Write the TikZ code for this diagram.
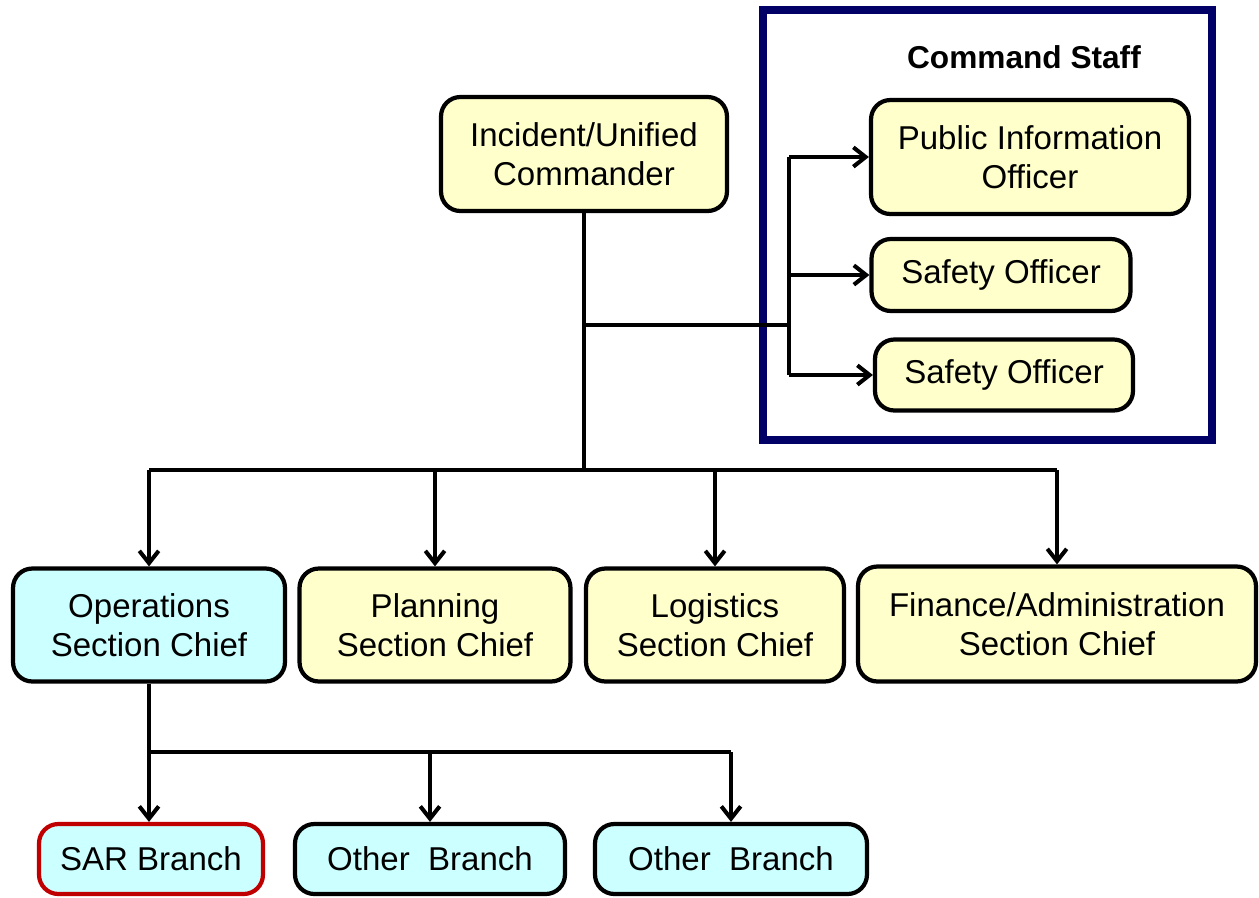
\documentclass[tikz,border=0pt]{standalone}
\usepackage{fontspec}
\setmainfont{Liberation Sans}
\usetikzlibrary{arrows.meta}
\definecolor{boxyellow}{HTML}{FFFFCC}
\definecolor{boxcyan}{HTML}{CCFFFF}
\definecolor{staffblue}{HTML}{000066}
\definecolor{sarred}{HTML}{C00000}

\begin{document}
\begin{tikzpicture}[x=0.02cm,y=-0.02cm,
    post/.style={draw=black,line width=2.4pt,rounded corners=11pt,align=center,
        font=\fontsize{18.8}{22}\selectfont,inner sep=0pt},
    yellowbox/.style={post,fill=boxyellow},
    cyanbox/.style={post,fill=boxcyan},
    link/.style={line width=2.4pt},
    arrow/.style={link,-{Straight Barb[length=7pt,width=11pt,line width=2.3pt]}}]
    \useasboundingbox (0,0) rectangle (1259,897);
            \draw[staffblue,line width=4pt] (763,10) rectangle (1212,440);
            \node (staff) at (1024,57) {\fontsize{18}{21}\selectfont\bfseries Command Staff};
            \node[yellowbox,minimum width=5.72cm,minimum height=2.28cm] (cmd) at (584,154) {Incident/Unified\\Commander};
            \node[yellowbox,minimum width=6.36cm,minimum height=2.28cm] (pio) at (1030,157) {Public Information\\Officer};
            \node[yellowbox,minimum width=5.18cm,minimum height=1.44cm] (saf1) at (1001,275) {Safety Officer};
            \node[yellowbox,minimum width=5.16cm,minimum height=1.42cm] (saf2) at (1004,375) {Safety Officer};
            \node[cyanbox,minimum width=5.44cm,minimum height=2.26cm] (ops) at (149,625) {Operations\\Section Chief};
            \node[yellowbox,minimum width=5.42cm,minimum height=2.26cm] (plan) at (435,625) {Planning\\Section Chief};
            \node[yellowbox,minimum width=5.16cm,minimum height=2.26cm] (log) at (715,625) {Logistics\\Section Chief};
            \node[yellowbox,minimum width=7.96cm,minimum height=2.30cm] (fin) at (1057,624) {Finance/Administration\\Section Chief};
            \node[cyanbox,draw=sarred,minimum width=4.48cm,minimum height=1.40cm] (sar) at (151,859) {SAR Branch};
            \node[cyanbox,minimum width=5.40cm,minimum height=1.40cm] (oth1) at (430,859) {Other\ \ Branch};
            \node[cyanbox,minimum width=5.44cm,minimum height=1.40cm] (oth2) at (731,859) {Other\ \ Branch};
            \coordinate (tap) at (789,325);
            \coordinate (bus) at (584,470);
            \coordinate (opsbus) at (149,752);
            \draw[link] (cmd.south) -- (bus);
            \draw[link] (cmd.south |- tap) -- (tap);
            \draw[link] (tap |- pio.west) -- (tap |- saf2.west);
            \draw[arrow] (tap |- pio.west) -- (pio.west);
            \draw[arrow] (tap |- saf1.west) -- (saf1.west);
            \draw[arrow] (tap |- saf2.west) -- (saf2.west);
            \draw[link] (ops.north |- bus) -- (fin.north |- bus);
            \draw[arrow] (ops.north |- bus) -- (ops.north);
            \draw[arrow] (plan.north |- bus) -- (plan.north);
            \draw[arrow] (log.north |- bus) -- (log.north);
            \draw[arrow] (fin.north |- bus) -- (fin.north);
            \draw[arrow] (ops.south) -- (sar.north -| ops.south);
            \draw[link] (opsbus) -- (oth2.north |- opsbus);
            \draw[arrow] (oth1.north |- opsbus) -- (oth1.north);
            \draw[arrow] (oth2.north |- opsbus) -- (oth2.north);
\end{tikzpicture}
\end{document}
